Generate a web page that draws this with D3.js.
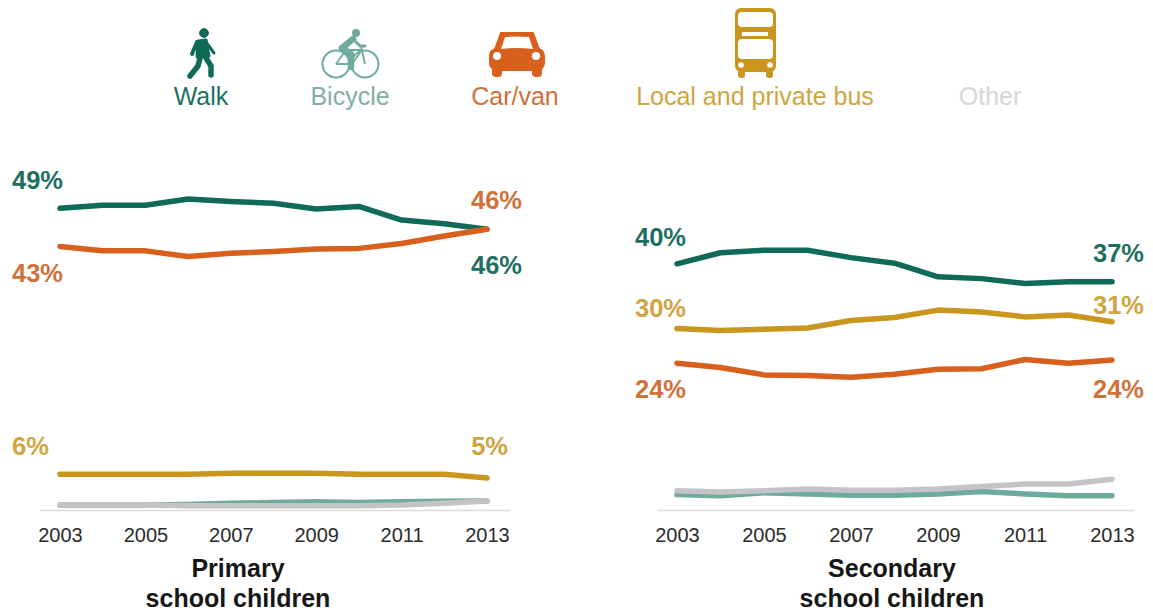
<!DOCTYPE html>
<html><head><meta charset="utf-8">
<style>
html,body{margin:0;padding:0;background:#fff}
svg{display:block}
text{font-family:"Liberation Sans",Arial,sans-serif}
</style>
<script src="https://cdn.jsdelivr.net/npm/d3@7/dist/d3.min.js"></script>
</head><body><svg id="c" width="1153" height="614"></svg>
<script>
const years=[2003,2004,2005,2006,2007,2008,2009,2010,2011,2012,2013];
const tickYears=[2003,2005,2007,2009,2011,2013];
const modes=["Walk","Bicycle","Car/van","Local and private bus","Other"];

const primaryWalk=[48.9,49.4,49.4,50.4,50.0,49.7,48.8,49.2,47.0,46.4,45.5];
const primaryBicycle=[0.8,0.8,0.8,0.9,1.1,1.2,1.35,1.2,1.35,1.4,1.45];
const primaryCar=[42.7,42.0,42.0,41.1,41.6,41.9,42.3,42.4,43.2,44.4,45.5];
const primaryBus=[5.8,5.8,5.8,5.8,5.95,5.95,5.95,5.8,5.8,5.8,5.2];
const primaryOther=[0.8,0.8,0.8,0.7,0.7,0.7,0.7,0.7,0.8,1.1,1.45];

const secondaryWalk=[39.9,41.7,42.1,42.1,40.9,40.0,37.8,37.5,36.7,37.0,37.0];
const secondaryBicycle=[2.5,2.3,2.8,2.6,2.4,2.4,2.6,3.0,2.6,2.3,2.3];
const secondaryCar=[23.8,23.1,21.9,21.8,21.5,22.0,22.8,22.9,24.4,23.8,24.3];
const secondaryBus=[29.4,29.1,29.3,29.5,30.7,31.2,32.4,32.1,31.3,31.6,30.5];
const secondaryOther=[3.1,2.9,3.1,3.4,3.2,3.2,3.4,3.8,4.2,4.2,5.0];

const primaryLabelsText=["49%","43%","6%","46%","46%","5%"];
const secondaryLabelsText=["40%","30%","24%","37%","31%","24%"];

const colors={walk:"#0f6b58",bicycle:"#6fab9c",car:"#d9601c",bus:"#c9971e",other:"#c4c4c6"};
const textColors={walk:"#1f6f60",bicycle:"#82aea4",car:"#cf7138",bus:"#cfa53f",other:"#d4d6d8"};

const svg=d3.select("#c");
const y=d3.scaleLinear().domain([0,50]).range([510,201.5]);

function panel(cfg){
  const x=d3.scaleLinear().domain([2003,2013]).range(cfg.range);
  const g=svg.append("g");
  g.append("line").attr("x1",cfg.axis[0]).attr("x2",cfg.axis[1]).attr("y1",510.5).attr("y2",510.5)
    .attr("stroke","#dcdcdc").attr("stroke-width",1.5);
  const ax=d3.axisBottom(x).tickValues(tickYears).tickFormat(d3.format("d")).tickSize(0).tickPadding(0);
  const ag=g.append("g").attr("transform","translate(0,528)").call(ax);
  ag.select(".domain").remove();
  ag.selectAll("text").attr("font-size",20).attr("fill","#2b2b2b")
    .attr("font-family",'"Liberation Sans",Arial,sans-serif').attr("dy","0.71em");
  const line=d3.line().x((d,i)=>x(years[i])).y(d=>y(d));
  g.selectAll(".s").data(cfg.series).join("path").attr("class","s")
    .attr("d",d=>line(d.values)).attr("fill","none").attr("stroke",d=>colors[d.key])
    .attr("stroke-width",5.5).attr("stroke-linecap","round").attr("stroke-linejoin","round");
  g.selectAll(".lab").data(cfg.labels).join("text").attr("class","lab")
    .attr("x",d=>d.x).attr("y",d=>d.y).attr("text-anchor",d=>d.a)
    .attr("font-size",25.5).attr("font-weight",700).attr("fill",d=>textColors[d.key]).text(d=>d.t);
  g.selectAll(".tt").data(cfg.title).join("text").attr("class","tt")
    .attr("x",cfg.titleX).attr("y",(d,i)=>577+i*30).attr("text-anchor","middle")
    .attr("font-size",25).attr("font-weight",700).attr("fill","#161616").text(d=>d);
}

panel({range:[60,487],axis:[40,510],titleX:238,
  series:[
    {key:"bus",values:primaryBus},
    {key:"bicycle",values:primaryBicycle},
    {key:"other",values:primaryOther},
    {key:"walk",values:primaryWalk},
    {key:"car",values:primaryCar}],
  labels:[
    {t:primaryLabelsText[0],key:"walk",x:12,y:189,a:"start"},
    {t:primaryLabelsText[1],key:"car",x:12,y:282,a:"start"},
    {t:primaryLabelsText[2],key:"bus",x:12,y:455,a:"start"},
    {t:primaryLabelsText[3],key:"car",x:522,y:209,a:"end"},
    {t:primaryLabelsText[4],key:"walk",x:522,y:274,a:"end"},
    {t:primaryLabelsText[5],key:"bus",x:508,y:455,a:"end"}],
  title:["Primary","school children"]});

panel({range:[677,1112],axis:[657,1134],titleX:892,
  series:[
    {key:"bicycle",values:secondaryBicycle},
    {key:"other",values:secondaryOther},
    {key:"car",values:secondaryCar},
    {key:"bus",values:secondaryBus},
    {key:"walk",values:secondaryWalk}],
  labels:[
    {t:secondaryLabelsText[0],key:"walk",x:635,y:246,a:"start"},
    {t:secondaryLabelsText[1],key:"bus",x:635,y:317,a:"start"},
    {t:secondaryLabelsText[2],key:"car",x:635,y:398,a:"start"},
    {t:secondaryLabelsText[3],key:"walk",x:1144,y:262,a:"end"},
    {t:secondaryLabelsText[4],key:"bus",x:1144,y:314,a:"end"},
    {t:secondaryLabelsText[5],key:"car",x:1144,y:398,a:"end"}],
  title:["Secondary","school children"]});

// legend labels
const legendPos=[{x:201,k:"walk"},{x:350,k:"bicycle"},{x:515,k:"car"},{x:755,k:"bus"},{x:990,k:"other"}];
svg.selectAll(".leg").data(modes).join("text").attr("class","leg")
  .attr("x",(d,i)=>legendPos[i].x).attr("y",105).attr("text-anchor","middle")
  .attr("font-size",25).attr("fill",(d,i)=>textColors[legendPos[i].k]).text(d=>d);

// icons
const walk=svg.append("g").attr("fill",colors.walk).attr("stroke",colors.walk).attr("stroke-linecap","round").attr("stroke-linejoin","round");
walk.append("circle").attr("cx",204).attr("cy",33).attr("r",4.4);
walk.append("path").attr("d","M198 41 L206 40 L209 56 L197 57 Z").attr("stroke-width",3);
walk.append("path").attr("d","M197 42 L192 54").attr("stroke-width",4).attr("fill","none");
walk.append("path").attr("d","M206 42 L214 53").attr("stroke-width",3).attr("fill","none");
walk.append("path").attr("d","M200 58 L198 66 L190 76").attr("stroke-width",5.5).attr("fill","none");
walk.append("path").attr("d","M206 58 L211 66 L211 75").attr("stroke-width",5.5).attr("fill","none");

const bike=svg.append("g").attr("stroke",colors.bicycle).attr("fill","none");
bike.append("circle").attr("cx",336).attr("cy",64).attr("r",13.5).attr("stroke-width",2);
bike.append("circle").attr("cx",365).attr("cy",64).attr("r",13.5).attr("stroke-width",2);
bike.append("path").attr("d","M336 64 L346 50 L362 50 L365 64 M336 64 L352 64 L346 50 M352 64 L362 50 M362 50 L361 46").attr("stroke-width",1.8);
bike.append("circle").attr("cx",356).attr("cy",33).attr("r",4).attr("fill",colors.bicycle).attr("stroke","none");
bike.append("path").attr("d","M353 39 L342 48 L351 54 L351 67").attr("stroke-width",6.5).attr("stroke-linejoin","round").attr("stroke-linecap","round");
bike.append("path").attr("d","M354 40 L360 46 L365 46").attr("stroke-width",3).attr("stroke-linecap","round");

const car=svg.append("g");
car.append("rect").attr("x",489).attr("y",48).attr("width",56).attr("height",23).attr("rx",8).attr("fill",colors.car);
car.append("path").attr("d","M494 52 L501 33 L533 33 L540 52 Z").attr("fill",colors.car).attr("stroke",colors.car).attr("stroke-width",2).attr("stroke-linejoin","round");
car.append("path").attr("d","M501 49 L505 37 Q517 36 529 37 L533 49 Q517 47 501 49 Z").attr("fill","#fff");
car.append("circle").attr("cx",497).attr("cy",56).attr("r",4).attr("fill","#fff");
car.append("circle").attr("cx",536).attr("cy",56).attr("r",4).attr("fill","#fff");
car.append("rect").attr("x",492).attr("y",66).attr("width",10).attr("height",11).attr("rx",4).attr("fill",colors.car);
car.append("rect").attr("x",532).attr("y",66).attr("width",10).attr("height",11).attr("rx",4).attr("fill",colors.car);

const bus=svg.append("g");
bus.append("rect").attr("x",735).attr("y",8).attr("width",41).attr("height",64).attr("rx",6).attr("fill",colors.bus);
bus.append("rect").attr("x",738).attr("y",12).attr("width",35).attr("height",15).attr("rx",4).attr("fill","#fff");
bus.append("rect").attr("x",742).attr("y",32).attr("width",26).attr("height",4).attr("fill","#fff");
bus.append("rect").attr("x",738).attr("y",39).attr("width",35).attr("height",20).attr("rx",4).attr("fill","#fff");
bus.append("circle").attr("cx",741).attr("cy",65).attr("r",2.8).attr("fill","#fff");
bus.append("circle").attr("cx",770).attr("cy",65).attr("r",2.8).attr("fill","#fff");
bus.append("rect").attr("x",738).attr("y",70).attr("width",7).attr("height",8).attr("rx",3).attr("fill",colors.bus);
bus.append("rect").attr("x",766).attr("y",70).attr("width",7).attr("height",8).attr("rx",3).attr("fill",colors.bus);
</script></body></html>
